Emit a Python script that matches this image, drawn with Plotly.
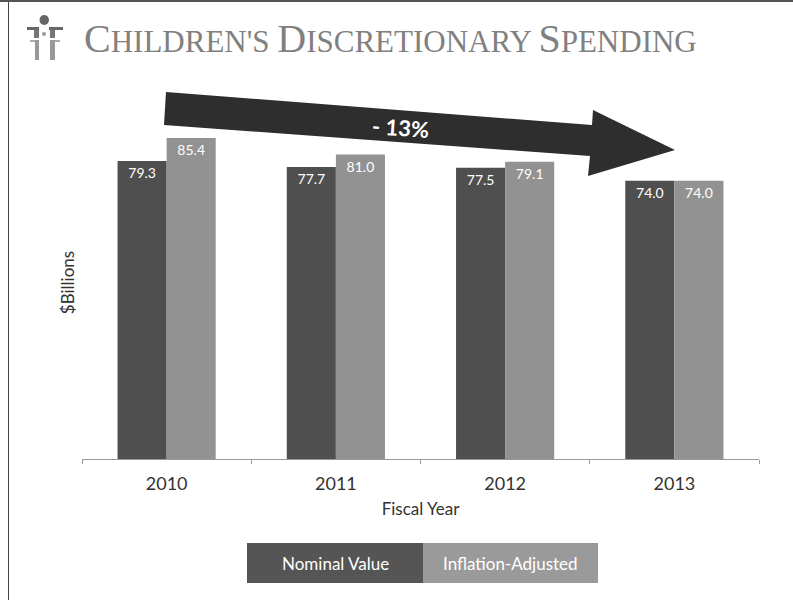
import plotly.graph_objects as go

years = ["2010", "2011", "2012", "2013"]
nominal = [79.3, 77.7, 77.5, 74.0]
adjusted = [85.4, 81.0, 79.1, 74.0]
DARK = "#4f4f4f"
LIGHT = "#929292"
W, H = 793, 600

def px(x): return x / W
def py(y): return 1 - y / H

def path(points):
    return "M" + " L".join(f"{px(x):.5f},{py(y):.5f}" for x, y in points) + " Z"

def rect(x0, y0, x1, y1, color):
    return dict(type="rect", xref="paper", yref="paper", x0=px(x0), x1=px(x1),
                y0=py(y0), y1=py(y1), fillcolor=color, line_width=0, layer="above")

def note(x, y, text, size, color, font="Lato", **kw):
    return dict(xref="paper", yref="paper", x=px(x), y=py(y), text=text, showarrow=False,
                font=dict(size=size, color=color, family=font), **kw)

fig = go.Figure()
fig.add_bar(x=years, y=nominal, name="Nominal Value", marker=dict(color=DARK, line_width=0),
            text=[f"{v:.1f}" for v in nominal])
fig.add_bar(x=years, y=adjusted, name="Inflation-Adjusted", marker=dict(color=LIGHT, line_width=0),
            text=[f"{v:.1f}" for v in adjusted])
fig.update_traces(textposition="inside", insidetextanchor="end", textangle=0,
                  textfont=dict(color="white", size=14, family="Lato"), showlegend=False)

arrow = [(166, 92), (592, 125), (593, 110), (675, 150), (588, 176), (590, 156), (164, 125)]
title = ('C<span style="font-size:31px">HILDREN\'S </span>D<span style="font-size:31px">ISCRETIONARY </span>'
         'S<span style="font-size:31px">PENDING</span>')

shapes = [
    rect(8, 0, 9, 600, "#444444"),
    rect(0, 0, 793, 2, "#555555"),
    dict(type="path", xref="paper", yref="paper", path=path(arrow), fillcolor="#2e2e2e",
         line_width=0, layer="above"),
    rect(247, 543, 423, 583, "#555555"),
    rect(423, 543, 598, 583, "#9a9a9a"),
    # logo
    dict(type="circle", xref="paper", yref="paper", x0=px(39.5), x1=px(49), y0=py(15), y1=py(25),
         fillcolor="#666666", line_width=0),
    rect(27, 27, 39, 30, "#666666"),
    rect(49, 27, 63, 30, "#666666"),
    rect(34, 30, 39, 38, "#777777"),
    rect(50, 30, 55, 38, "#777777"),
    dict(type="circle", xref="paper", yref="paper", x0=px(42), x1=px(46), y0=py(32), y1=py(36),
         fillcolor="#999999", line_width=0),
    rect(30, 40, 35, 42, "#aaaaaa"),
    rect(55, 40, 60, 42, "#aaaaaa"),
    rect(35, 40, 39, 60, "#999999"),
    rect(50, 40, 55, 60, "#999999"),
]

annotations = [
    note(82, 38, title, 40, "#808080", font="Liberation Serif", xanchor="left", yanchor="middle"),
    note(400, 127, "<b>- 13%</b>", 22, "white", textangle=4, xanchor="center", yanchor="middle"),
    note(335, 563, "Nominal Value", 17, "white", xanchor="center", yanchor="middle"),
    note(510, 563, "Inflation-Adjusted", 17, "white", xanchor="center", yanchor="middle"),
]

fig.update_layout(
    width=W, height=H, margin=dict(l=0, r=0, t=0, b=0),
    paper_bgcolor="white", plot_bgcolor="white",
    barmode="group", bargap=0.42, bargroupgap=0,
    shapes=shapes, annotations=annotations,
    xaxis=dict(domain=[px(82), px(759)], type="category", tickson="boundaries", ticks="outside",
               ticklen=4, tickcolor="#999999", linecolor="#999999", showline=True, showgrid=False,
               ticklabelstandoff=8,
               tickfont=dict(size=18, color="#333333", family="Lato"),
               title=dict(text="Fiscal Year", font=dict(size=17, color="#333333", family="Lato"), standoff=10),
               automargin=False),
    yaxis=dict(domain=[py(459), py(106)], range=[0, 93.9], showgrid=False, zeroline=False,
               showticklabels=False, ticks="", showline=False,
               title=dict(text="$Billions", font=dict(size=17, color="#333333", family="Lato"), standoff=2),
               automargin=False),
)

fig.write_html("out.html", config={"displayModeBar": False},
               post_script="document.body.style.margin='0';")
